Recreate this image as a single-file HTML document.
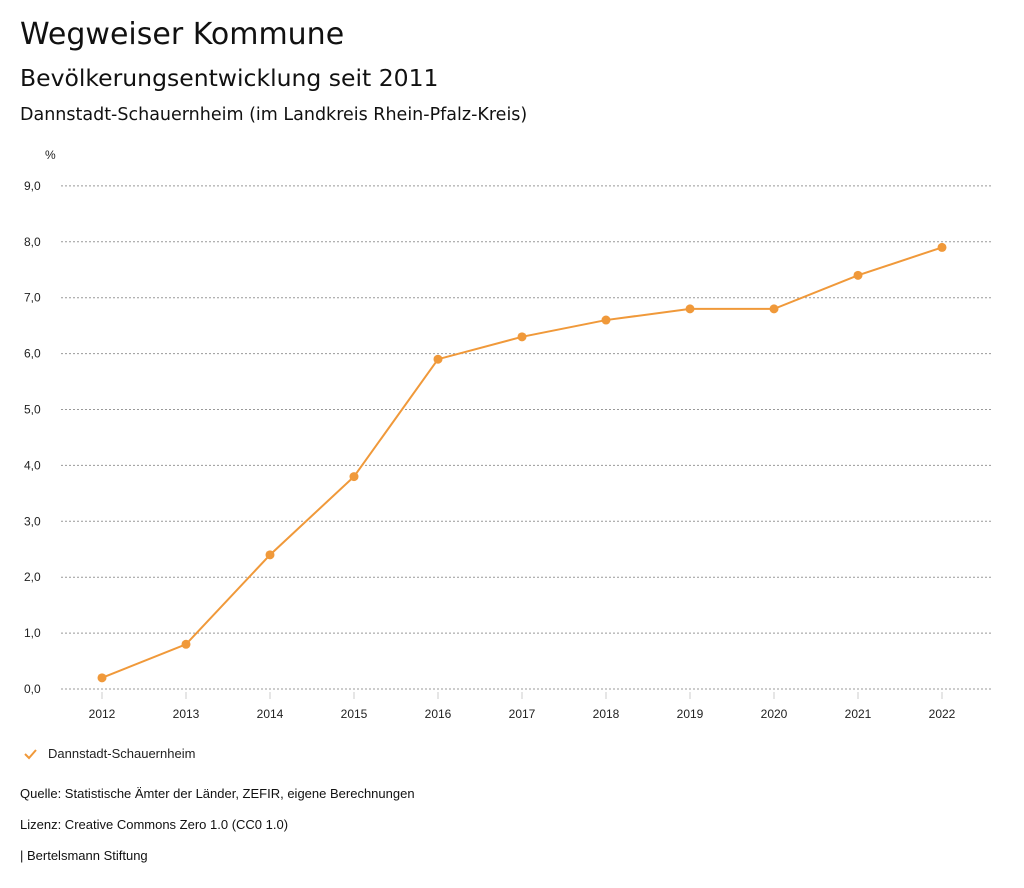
<!DOCTYPE html>
<html><head><meta charset="utf-8"><style>
body{margin:0;width:1024px;height:888px;background:#fff;font-family:"Liberation Sans",sans-serif;color:#111;overflow:hidden;position:relative}
.t{position:absolute;left:20px;white-space:nowrap}
.h{font-family:"DejaVu Sans","Liberation Sans",sans-serif}
</style></head><body>
<div class="t h" style="top:17px;font-size:30px">Wegweiser Kommune</div>
<div class="t h" style="top:64px;font-size:23.5px">Bevölkerungsentwicklung seit 2011</div>
<div class="t h" style="top:105px;font-size:17.5px">Dannstadt-Schauernheim (im Landkreis Rhein-Pfalz-Kreis)</div>
<svg id="c" width="1024" height="888" style="position:absolute;left:0;top:0"></svg>
<div class="t" style="top:786px;font-size:13px">Quelle: Statistische Ämter der Länder, ZEFIR, eigene Berechnungen</div>
<div class="t" style="top:817px;font-size:13px">Lizenz: Creative Commons Zero 1.0 (CC0 1.0)</div>
<div class="t" style="top:848px;font-size:13px">| Bertelsmann Stiftung</div>
<script>
const years=[2012,2013,2014,2015,2016,2017,2018,2019,2020,2021,2022];
const values=[0.2,0.8,2.4,3.8,5.9,6.3,6.6,6.8,6.8,7.4,7.9];
const yTicks=[0,1,2,3,4,5,6,7,8,9];
const NS="http://www.w3.org/2000/svg",svg=document.getElementById('c'),col="#f0993a";
const x=i=>102+i*84, y=v=>689-v*55.9;
function el(t,a,txt){const e=document.createElementNS(NS,t);for(const k in a)e.setAttribute(k,a[k]);if(txt!=null)e.textContent=txt;svg.appendChild(e);return e;}
let u=el('text',{x:45,y:159,'font-size':12,fill:'#222'},'%');


yTicks.forEach(v=>{
 let g=el('line',{x1:61,x2:991,y1:y(v),y2:y(v),stroke:'#999','stroke-dasharray':'2,2','stroke-width':1});
 
 
 let t=el('text',{x:24,y:y(v)+4,'font-size':12,fill:'#222'},v.toFixed(1).replace('.',','));
 
 
});
years.forEach((yr,i)=>{
 let tk=el('line',{x1:x(i),x2:x(i),y1:692,y2:699,stroke:'#ccc'});
 
 
 let t=el('text',{x:x(i),y:718,'font-size':12,fill:'#222','text-anchor':'middle'},yr);
 
 
});
let p=el('polyline',{points:values.map((v,i)=>x(i)+','+y(v)).join(' '),fill:'none',stroke:col,'stroke-width':2});


values.forEach((v,i)=>{
 let c=el('circle',{cx:x(i),cy:y(v),r:4.5,fill:col});
 
 
});
let lm=el('polyline',{points:'25,754 29,758 36,750',fill:'none',stroke:col,'stroke-width':2});


let lt=el('text',{x:48,y:758,'font-size':13,fill:'#222'},'Dannstadt-Schauernheim');


</script>
</body></html>
